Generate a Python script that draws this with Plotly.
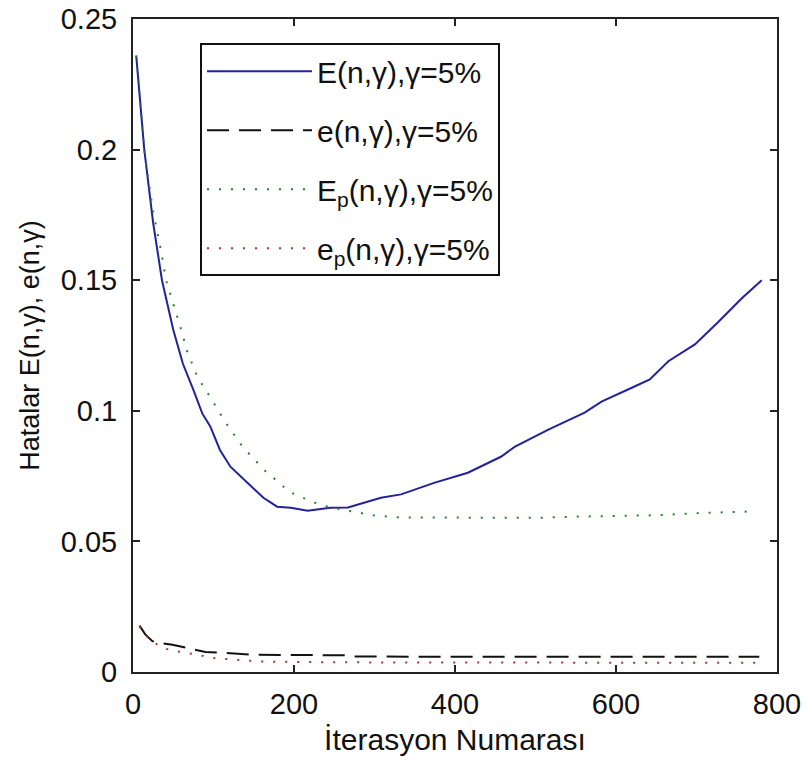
import plotly.graph_objects as go

# E(n,gamma) - blue solid
E_x = [4, 8, 14, 25, 36, 50, 62, 75, 86, 96, 108, 121, 142, 162, 179, 196, 217, 229, 245, 267, 287, 308,
       333, 374, 416, 428, 457, 474, 516, 561, 582, 623, 642, 665, 698, 727, 756, 781]
E_y = [0.236, 0.221, 0.200, 0.172, 0.150, 0.131, 0.118, 0.108, 0.099, 0.094, 0.085, 0.0786, 0.0725, 0.0667,
       0.0633, 0.0629, 0.0617, 0.0621, 0.0629, 0.0630, 0.0648, 0.0667,
       0.0680, 0.0724, 0.0763, 0.0780, 0.0824, 0.0862, 0.0928, 0.0993, 0.1035, 0.1093, 0.1120, 0.1190,
       0.1254, 0.1340, 0.1430, 0.1500]

# e(n,gamma) - black dashed
e_x = [8, 15, 24, 35, 49, 69, 90, 115, 131, 150, 200, 265, 275, 400, 600, 778]
e_y = [0.0178, 0.0145, 0.0118, 0.0110, 0.0104, 0.0092, 0.0077, 0.0073, 0.0069, 0.0066, 0.0065, 0.0064,
       0.0059, 0.0058, 0.0058, 0.0058]

# E_p(n,gamma) - green dotted
Ep_x = [4, 14, 24, 35, 41, 46, 59, 67, 80, 97, 115, 136, 150, 164, 180, 194, 209, 224, 245, 268, 283, 298,
        330, 400, 500, 550, 600, 650, 700, 740, 772]
Ep_y = [0.236, 0.200, 0.178, 0.161, 0.150, 0.145, 0.132, 0.123, 0.113, 0.1047, 0.0955, 0.0863, 0.0817,
        0.0770, 0.0729, 0.0690, 0.0670, 0.0650, 0.0630, 0.0617, 0.0610, 0.0600,
        0.0592, 0.0590, 0.0590, 0.0595, 0.0598, 0.0600, 0.0608, 0.0612, 0.0615]

# e_p(n,gamma) - red dotted
ep_x = [8, 20, 37, 52, 67, 82, 97, 127, 160, 250, 400, 600, 778]
ep_y = [0.0175, 0.0125, 0.0092, 0.0080, 0.0073, 0.0065, 0.0054, 0.0046, 0.0040, 0.0037, 0.0036, 0.0035, 0.0035]

names = ["E(n,γ),γ=5%", "e(n,γ),γ=5%", "E<sub>p</sub>(n,γ),γ=5%", "e<sub>p</sub>(n,γ),γ=5%"]
x_ticks = [0, 200, 400, 600, 800]
y_ticks = [0, 0.05, 0.1, 0.15, 0.2, 0.25]
y_labels = ["0", "0.05", "0.1", "0.15", "0.2", "0.25"]

FONT = "Liberation Sans, Arial, sans-serif"

fig = go.Figure()
fig.add_trace(go.Scatter(x=E_x, y=E_y, mode="lines", name=names[0], legendgroup="a",
                         line=dict(color="#22229a", width=2)))
fig.add_trace(go.Scatter(x=e_x, y=e_y, mode="lines", name=names[1], legendgroup="b",
                         line=dict(color="#111111", width=2, dash="22px,10px")))
fig.add_trace(go.Scatter(x=Ep_x, y=Ep_y, mode="lines", name=names[2], legendgroup="c",
                         line=dict(color="#2e7d32", width=2, dash="2px,10px")))
fig.add_trace(go.Scatter(x=ep_x, y=ep_y, mode="lines", name=names[3], legendgroup="d",
                         line=dict(color="#b03030", width=2, dash="2px,10px")))

axis_common = dict(showline=True, linecolor="#222222", linewidth=2, mirror="ticks",
                   ticks="inside", ticklen=7, tickwidth=1.5, tickcolor="#222222",
                   showgrid=False, zeroline=False, automargin=False,
                   tickfont=dict(family=FONT, size=29, color="#111111"))

fig.update_layout(
    width=805, height=763,
    margin=dict(l=133, r=28, t=19, b=91),
    paper_bgcolor="white", plot_bgcolor="white",
    font=dict(family=FONT, size=29, color="#111111"),
    showlegend=True,
    legend=dict(x=0.104, y=0.963, xanchor="left", yanchor="top",
                bgcolor="white", bordercolor="#111111", borderwidth=2,
                font=dict(family=FONT, size=30, color="#111111"),
                traceorder="grouped", tracegroupgap=17, itemwidth=105),
    xaxis=dict(range=[0, 800], tickvals=x_ticks,
               title=dict(text="İterasyon Numarası", font=dict(family=FONT, size=30), standoff=10),
               ticklabelstandoff=5,
               **axis_common),
    yaxis=dict(range=[0, 0.25], tickvals=y_ticks, ticktext=y_labels,
               title=dict(text="Hatalar E(n,γ), e(n,γ)", font=dict(family=FONT, size=27), standoff=13),
               ticklabelstandoff=8,
               **axis_common),
)

fig.write_html("out.html")
